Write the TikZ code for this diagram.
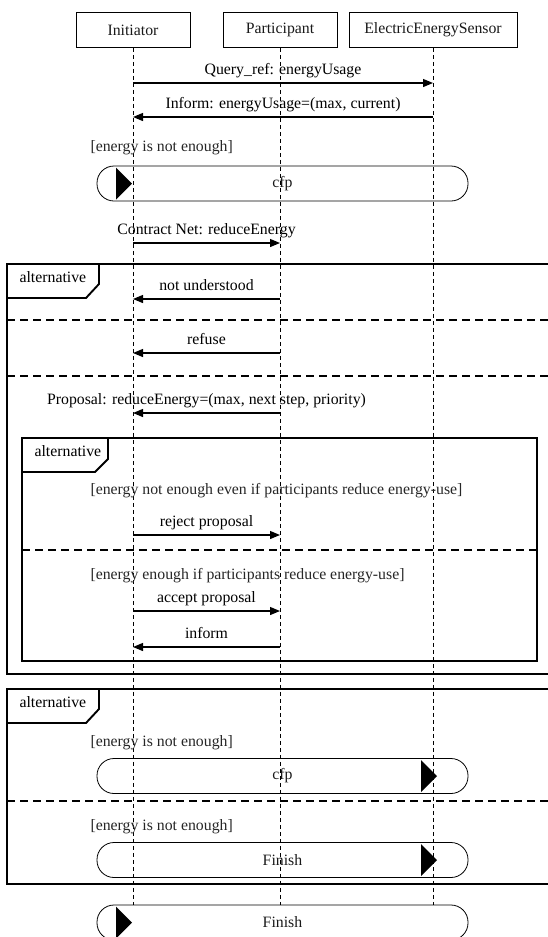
\documentclass[tikz,border=0pt]{standalone}
\usepackage{fontspec}
\setmainfont{Liberation Serif}
\usepackage{tikz}
\usetikzlibrary{arrows.meta}
\tikzstyle{msg} = [draw, -{Triangle[length=10pt,width=8pt]}, line width=1.2pt]
\tikzstyle{lifeline} = [draw, dash pattern=on 4pt off 3pt, line width=0.8pt]
\tikzstyle{actor} = [draw, line width=0.8pt, minimum height=35pt, text=black!90]
\tikzstyle{pill} = [draw, line width=0.8pt, rounded corners=17pt, minimum width=371pt, minimum height=35pt, text=black!90]
\tikzstyle{frame} = [draw, line width=1.9pt]
\tikzstyle{split} = [draw, line width=1.9pt, dash pattern=on 8pt off 5pt]
\tikzstyle{guard} = [text=black!85, anchor=base west]
\tikzstyle{lbl} = [anchor=base, yshift=9pt]

\begin{document}
\begin{tikzpicture}[x=1pt,y=-1pt]
	\tikzstyle{every node}=[font=\fontsize{15.8}{18}\selectfont]
	\useasboundingbox (0,0) rectangle (548,937);
	\clip (0,0) rectangle (548,937);
	
	% ------------------- Heads ------------------- %
	\node[actor, minimum width=114pt] (ini) at (133,30) {Initiator};
	\node[actor, minimum width=114pt] (par) at (280,30) {Participant};
	\node[actor, minimum width=168pt] (sen) at (433,30) {ElectricEnergySensor};
	
	% ------------------- Pills ------------------- %
	\node[pill] (cfpA) at (282.5,183.5) {cfp};
	\node[pill] (cfpB) at (282.5,776) {cfp};
	\node[pill] (finA) at (282.5,860) {Finish};
	\node[pill] (finB) at (282.5,922.5) {Finish};
	\fill (116,167.5) -- (132,183.5) -- (116,199.5) -- cycle;
	\fill (421,760) -- (437,776) -- (421,792) -- cycle;
	\fill (421,844) -- (437,860) -- (421,876) -- cycle;
	\fill (116,906.5) -- (132,922.5) -- (116,938.5) -- cycle;
	
	% ------------------- Lifelines ------------------- %
	\draw[lifeline] (ini) -- (ini |- finB.north);
	\draw[lifeline] (par) -- (par |- finB.north);
	\draw[lifeline] (sen) -- (sen |- finB.north);
	
	% ------------------- Messages ------------------- %
	\draw[msg] (ini |- 0,83) -- (sen |- 0,83) node[midway, lbl] {Query\_ref: energyUsage};
	\draw[msg] (sen |- 0,117) -- (ini |- 0,117) node[midway, lbl] {Inform: energyUsage=(max, current)};
	\node[guard] (g1) at (87,151) {[energy is not enough]};
	\draw[msg] (ini |- 0,243) -- (par |- 0,243) node[midway, lbl] {Contract Net: reduceEnergy};
	
	% ------------------- Outer alternative ------------------- %
	\draw[frame] (7,264) rectangle (560,674);
	\draw[frame] (7,298) -- (86,298) -- (99,284) -- (99,264);
	\node[anchor=base west] (alt1) at (16,282) {alternative};
	\draw[msg] (par |- 0,299) -- (ini |- 0,299) node[midway, lbl] {not understood};
	\draw[split] (7,320) -- (560,320);
	\draw[msg] (par |- 0,353) -- (ini |- 0,353) node[midway, lbl] {refuse};
	\draw[split] (7,376) -- (560,376);
	\draw[msg] (par |- 0,413) -- (ini |- 0,413) node[midway, lbl] {Proposal: reduceEnergy=(max, next step, priority)};
	
	% ------------------- Inner alternative ------------------- %
	\draw[frame] (22,438) rectangle (537,661);
	\draw[frame] (22,472) -- (95,472) -- (108,459) -- (108,438);
	\node[anchor=base west] (alt2) at (31,456) {alternative};
	\node[guard] (g2) at (87,494) {[energy not enough even if participants reduce energy-use]};
	\draw[msg] (ini |- 0,535) -- (par |- 0,535) node[midway, lbl] {reject proposal};
	\draw[split] (22,550) -- (537,550);
	\node[guard] (g3) at (87,579) {[energy enough if participants reduce energy-use]};
	\draw[msg] (ini |- 0,611) -- (par |- 0,611) node[midway, lbl] {accept proposal};
	\draw[msg] (par |- 0,647) -- (ini |- 0,647) node[midway, lbl] {inform};
	
	% ------------------- Second alternative ------------------- %
	\draw[frame] (7,689) rectangle (560,884);
	\draw[frame] (7,723) -- (86,723) -- (99,709) -- (99,689);
	\node[anchor=base west] (alt3) at (16,707) {alternative};
	\node[guard] (g4) at (87,746) {[energy is not enough]};
	\draw[split] (7,801) -- (560,801);
	\node[guard] (g5) at (87,830) {[energy is not enough]};
	
\end{tikzpicture}
\end{document}
